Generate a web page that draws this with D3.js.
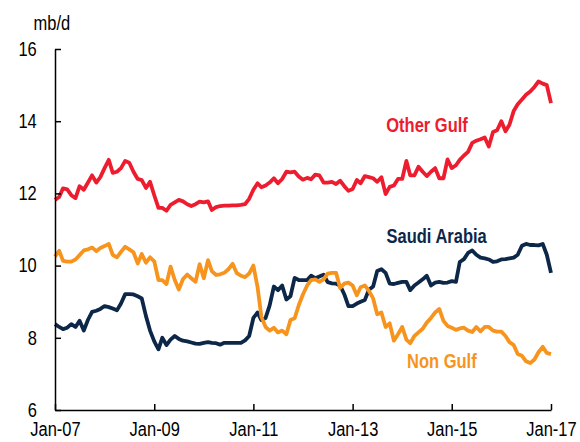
<!DOCTYPE html>
<html>
<head>
<meta charset="utf-8">
<script src="https://cdn.jsdelivr.net/npm/d3@7"></script>
<style>
  body { margin: 0; background: #fff; }
  svg { display: block; font-family: "Liberation Sans", Arial, sans-serif; }
  /* reference text looks a bit tall/narrow */
  svg text { transform-box: fill-box; transform-origin: center; transform: scale(0.97, 1.15); }
</style>
</head>
<body>
<div id="chart"></div>
<script>
// monthly, Jan-07 .. Jan-17 (mb/d)
var seriesNames = ["Other Gulf", "Saudi Arabia", "Non Gulf"];

var otherGulf = [
  11.82, 11.9, 12.14, 12.11, 11.95, 11.87, 12.2, 12.1, 12.3, 12.5, 12.3, 12.45,
  12.7, 12.93, 12.57, 12.6, 12.7, 12.9, 12.85, 12.6, 12.4, 12.37, 12.15, 12.32,
  11.95, 11.6, 11.6, 11.52, 11.68, 11.75, 11.82, 11.78, 11.7, 11.65, 11.7, 11.77,
  11.75, 11.78, 11.54, 11.62, 11.65, 11.66, 11.66, 11.67, 11.67, 11.68, 11.7, 11.85,
  12.1, 12.28, 12.17, 12.22, 12.3, 12.42, 12.28, 12.4, 12.6, 12.58, 12.6, 12.47,
  12.38, 12.43, 12.39, 12.52, 12.5, 12.3, 12.3, 12.32, 12.26, 12.35, 12.2, 12.07,
  12.12, 12.37, 12.28, 12.48, 12.45, 12.42, 12.32, 12.45, 11.98, 12.18, 12.22, 12.4,
  12.4, 12.9, 12.5, 12.5, 12.74, 12.6, 12.48, 12.6, 12.7, 12.42, 12.42, 12.94,
  12.7, 12.78, 12.93, 13.05, 13.15, 13.4, 13.46, 13.5, 13.55, 13.3, 13.7, 13.75,
  14.0, 13.72, 13.9, 14.28, 14.47, 14.6, 14.73, 14.82, 14.95, 15.1, 15.04, 15.0,
  14.5
];

var saudiArabia = [
  8.38, 8.3, 8.24, 8.28, 8.38, 8.3, 8.47, 8.2, 8.5, 8.72, 8.75, 8.8,
  8.88, 8.85, 8.81, 8.76, 8.95, 9.21, 9.21, 9.2, 9.15, 9.09, 8.6, 8.2,
  7.9, 7.68, 8.0, 7.8, 7.95, 8.05, 7.97, 7.92, 7.9, 7.87, 7.84, 7.83,
  7.86, 7.88, 7.86, 7.85, 7.81, 7.86, 7.86, 7.86, 7.86, 7.86, 7.93, 8.05,
  8.55, 8.7, 8.49, 8.55, 8.9, 9.42, 9.32, 9.45, 9.06, 9.15, 9.66, 9.6,
  9.6, 9.6, 9.72, 9.65, 9.7, 9.75, 9.54, 9.51, 9.5, 9.45, 9.2, 8.88,
  8.88, 8.95, 9.0, 9.05, 9.33, 9.42, 9.85, 9.9, 9.8, 9.5, 9.49, 9.52,
  9.55, 9.55, 9.32, 9.45, 9.53, 9.62, 9.72, 9.45, 9.53, 9.55, 9.52, 9.53,
  9.57, 9.55, 10.1, 10.18, 10.35, 10.42, 10.3, 10.22, 10.2, 10.17, 10.1, 10.12,
  10.17, 10.18, 10.2, 10.22, 10.3, 10.55, 10.6, 10.57, 10.57, 10.56, 10.6, 10.3,
  9.8
];

var nonGulf = [
  10.25, 10.41, 10.13, 10.11, 10.11, 10.17, 10.29, 10.42, 10.45, 10.5, 10.4, 10.49,
  10.54, 10.6, 10.3, 10.23, 10.38, 10.52, 10.45, 10.37, 10.06, 10.32, 10.08, 10.23,
  10.12, 9.6, 9.6, 9.49, 9.97, 9.6, 9.34, 9.63, 9.75, 9.65, 9.55, 10.04,
  9.65, 10.15, 9.85, 9.74, 9.76, 9.8, 9.9, 10.05, 9.79, 9.72, 9.68, 9.78,
  10.0, 9.4, 8.58, 8.3, 8.2, 8.28, 8.15, 8.2, 8.1, 8.49, 8.54, 8.9,
  9.2, 9.45, 9.6, 9.62, 9.55, 9.62, 9.78, 9.8, 9.8, 9.38, 9.5, 9.53,
  9.45, 9.18, 9.4, 9.45, 9.3, 9.09, 8.65, 8.7, 8.3, 8.4, 7.92, 8.1,
  8.3, 7.95, 7.85, 8.05, 8.15, 8.25, 8.42, 8.55, 8.7, 8.8, 8.47, 8.33,
  8.28, 8.22, 8.26, 8.28, 8.2, 8.16, 8.3, 8.18, 8.3, 8.3, 8.2, 8.17,
  8.17, 8.05, 7.88, 7.8, 7.55, 7.5, 7.35, 7.3, 7.4, 7.6, 7.75, 7.58,
  7.55
];

var yTicks = [6, 8, 10, 12, 14, 16];
var xTickLabels = ["Jan-07", "Jan-09", "Jan-11", "Jan-13", "Jan-15", "Jan-17"];
var unitLabel = "mb/d";

var width = 580, height = 442;
var margin = { top: 49, right: 29, bottom: 32, left: 55 };

var svg = d3.select("#chart").append("svg")
  .attr("width", width)
  .attr("height", height);

var g = svg.append("g")
  .attr("transform", "translate(" + margin.left + "," + margin.top + ")");

var innerW = width - margin.left - margin.right;
var innerH = height - margin.top - margin.bottom;

var months = d3.timeMonth.range(new Date(2007, 0, 1), new Date(2017, 1, 1));
var xTickDates = xTickLabels.map(function (s) {
  return new Date(2000 + parseInt(s.slice(4)), 0, 1);
});

var x = d3.scaleTime()
  .domain([new Date(2007, 0, 1), new Date(2017, 0, 1)])
  .range([0, innerW]);

var y = d3.scaleLinear().domain([6, 16]).range([innerH, 0]);

var colors = ["#ed1c2e", "#0c2748", "#f7941d"];
var allSeries = [otherGulf, saudiArabia, nonGulf];

var line = d3.line()
  .x(function (d, i) { return x(months[i]); })
  .y(function (d) { return y(d); });

allSeries.forEach(function (s, k) {
  g.append("path")
    .datum(s)
    .attr("fill", "none")
    .attr("stroke", colors[k])
    .attr("stroke-width", 3.8)
    .attr("stroke-linejoin", "round")
    .attr("d", line);
});

// axes (ticks pointing inward)
var yAxis = g.append("g")
  .call(d3.axisLeft(y).tickValues(yTicks).tickSizeInner(-6).tickSizeOuter(0).tickPadding(18));

var xAxis = g.append("g")
  .attr("transform", "translate(0," + innerH + ")")
  .call(d3.axisBottom(x).tickValues(xTickDates)
    .tickFormat(function (d, i) { return xTickLabels[i]; })
    .tickSizeInner(-6).tickSizeOuter(0).tickPadding(13));

[yAxis, xAxis].forEach(function (a) {
  a.selectAll("path, line").attr("stroke", "#000").attr("stroke-width", 1.5);
  a.selectAll("text")
    .attr("fill", "#000")
    .style("font-size", "17px")
    .style("font-family", '"Liberation Sans", Arial, sans-serif');
});

svg.append("text")
  .attr("x", 33).attr("y", 29)
  .style("font-size", "17px")
  .text(unitLabel);

// series labels
var labelPos = [[385, 131], [385, 242], [406, 367]];
seriesNames.forEach(function (n, k) {
  svg.append("text")
    .attr("x", labelPos[k][0])
    .attr("y", labelPos[k][1])
    .attr("fill", colors[k])
    .style("font-size", "17px")
    .style("font-weight", "bold")
    .text(n);
});
</script>
</body>
</html>
